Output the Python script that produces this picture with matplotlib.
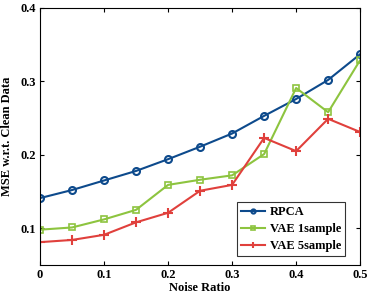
import matplotlib
matplotlib.use('Agg')
import matplotlib.pyplot as plt

noise = [0, 0.05, 0.1, 0.15, 0.2, 0.25, 0.3, 0.35, 0.4, 0.45, 0.5]
rpca = [0.141, 0.152, 0.165, 0.178, 0.194, 0.211, 0.229, 0.253, 0.276, 0.302, 0.337]
vae1 = [0.098, 0.101, 0.112, 0.125, 0.159, 0.166, 0.172, 0.201, 0.291, 0.258, 0.329]
vae5 = [0.081, 0.084, 0.091, 0.108, 0.121, 0.151, 0.159, 0.223, 0.205, 0.249, 0.231]
xticks = [0, 0.1, 0.2, 0.3, 0.4, 0.5]
xlabels = ['0', '0.1', '0.2', '0.3', '0.4', '0.5']
yticks = [0.1, 0.2, 0.3, 0.4]
ylabels = ['0.1', '0.2', '0.3', '0.4']

plt.rcParams['font.family'] = ['Liberation Serif', 'DejaVu Serif']
plt.rcParams['font.weight'] = 'bold'

fig = plt.figure(figsize=(3.74, 2.95), dpi=100)
ax = fig.add_axes([0.107, 0.102, 0.856, 0.871])

ax.plot(noise, rpca, '-o', color='#0d4a8c', lw=1.5, ms=5, mfc='none', mew=1.5, label='RPCA')
ax.plot(noise, vae1, '-s', color='#8dc43f', lw=1.5, ms=4.5, mfc='none', mew=1.2, label='VAE 1sample')
ax.plot(noise, vae5, '-+', color='#e0403c', lw=1.5, ms=7, mew=1.5, label='VAE 5sample')

ax.set_xlim(0, 0.5)
ax.set_ylim(0.05, 0.4)
ax.set_xticks(xticks)
ax.set_xticklabels(xlabels)
ax.set_yticks(yticks)
ax.set_yticklabels(ylabels)
ax.tick_params(direction='in', top=True, right=True, labelsize=9, length=3, pad=3)
for lab in ax.get_xticklabels() + ax.get_yticklabels():
    lab.set_fontweight('bold')
ax.set_xlabel('Noise Ratio', fontsize=9, fontweight='bold', labelpad=1)
ax.set_ylabel('MSE w.r.t. Clean Data', fontsize=9, fontweight='bold', labelpad=5)

leg = ax.legend(loc='lower right', fontsize=9, frameon=True, fancybox=False,
                edgecolor='black', borderpad=0.3, borderaxespad=0, handlelength=1.9,
                handletextpad=0.4, labelspacing=0.4, markerscale=0.6,
                bbox_to_anchor=(0.953, 0.035))
leg.get_frame().set_linewidth(0.8)
for t in leg.get_texts():
    t.set_fontweight('bold')

fig.savefig('out.png', dpi=100)
